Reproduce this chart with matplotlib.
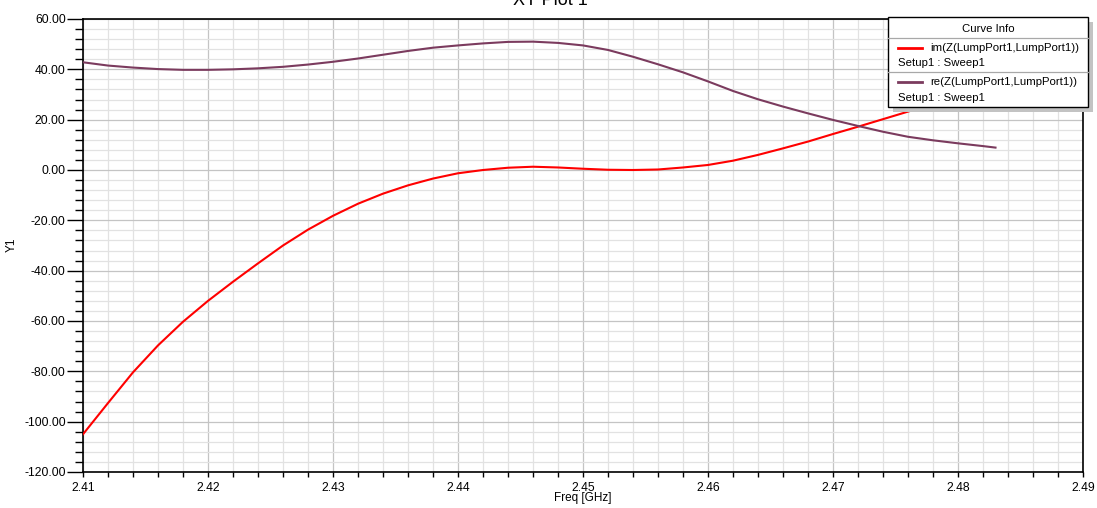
import matplotlib
matplotlib.use('Agg')
import matplotlib.pyplot as plt
from matplotlib.ticker import MultipleLocator, FormatStrFormatter
from matplotlib.patches import Rectangle
from matplotlib.lines import Line2D

plt.rcParams['font.family'] = ['Liberation Sans', 'DejaVu Sans']

# ---- data ----
freq_re = [2.410, 2.412, 2.414, 2.416, 2.418, 2.420, 2.422, 2.424, 2.426, 2.428,
           2.430, 2.432, 2.434, 2.436, 2.438, 2.440, 2.442, 2.444, 2.446, 2.448,
           2.450, 2.452, 2.454, 2.456, 2.458, 2.460, 2.462, 2.464, 2.466, 2.468,
           2.470, 2.472, 2.474, 2.476, 2.478, 2.480, 2.482, 2.483]
re_z = [42.8, 41.5, 40.7, 40.1, 39.8, 39.8, 40.0, 40.4, 41.0, 41.9,
        43.0, 44.3, 45.8, 47.3, 48.6, 49.5, 50.3, 50.9, 51.0, 50.5,
        49.5, 47.7, 45.0, 42.0, 38.8, 35.2, 31.4, 28.1, 25.2, 22.5,
        19.9, 17.5, 15.2, 13.2, 11.8, 10.6, 9.5, 8.9]

freq_im = [2.410, 2.412, 2.414, 2.416, 2.418, 2.420, 2.422, 2.424, 2.426, 2.428,
           2.430, 2.432, 2.434, 2.436, 2.438, 2.440, 2.442, 2.444, 2.446, 2.448,
           2.450, 2.452, 2.454, 2.456, 2.458, 2.460, 2.462, 2.464, 2.466, 2.468,
           2.470, 2.472, 2.474, 2.476, 2.478, 2.480, 2.482, 2.483]
im_z = [-105.0, -92.6, -80.4, -69.7, -60.3, -52.0, -44.4, -37.1, -30.0, -23.7,
        -18.2, -13.4, -9.4, -6.1, -3.4, -1.3, 0.0, 0.9, 1.3, 1.0,
        0.5, 0.1, 0.0, 0.2, 1.0, 2.0, 3.7, 6.0, 8.6, 11.3,
        14.3, 17.2, 20.2, 23.2, 26.3, 29.4, 32.6, 34.2]

series_labels = ['im(Z(LumpPort1,LumpPort1))', 're(Z(LumpPort1,LumpPort1))']
series_colors = ['#ff0000', '#7b3b5e']
sweep_label = 'Setup1 : Sweep1'

x_ticks = [2.41, 2.42, 2.43, 2.44, 2.45, 2.46, 2.47, 2.48, 2.49]
y_ticks = [-120, -100, -80, -60, -40, -20, 0, 20, 40, 60]

W, H = 1097, 508
fig = plt.figure(figsize=(W / 100, H / 100), dpi=100)
ax = fig.add_axes([83 / W, 1 - 472 / H, 1000 / W, 453 / H])

ax.plot(freq_im, im_z, color=series_colors[0], lw=1.5, zorder=3)
ax.plot(freq_re, re_z, color=series_colors[1], lw=1.5, zorder=3)

ax.set_xlim(x_ticks[0], x_ticks[-1])
ax.set_ylim(y_ticks[0], y_ticks[-1])
ax.set_xticks(x_ticks)
ax.set_yticks(y_ticks)
ax.xaxis.set_minor_locator(MultipleLocator(0.002))
ax.yaxis.set_minor_locator(MultipleLocator(4))
ax.xaxis.set_major_formatter(FormatStrFormatter('%.2f'))
ax.yaxis.set_major_formatter(FormatStrFormatter('%.2f'))

ax.set_axisbelow(True)
ax.grid(which='major', color='#c4c4c4', lw=0.9)
ax.grid(which='minor', color='#e2e2e2', lw=0.9)

ax.tick_params(axis='y', which='major', length=11.5, width=1, direction='out',
               pad=1, labelsize=8.7, colors='black')
ax.tick_params(axis='y', which='minor', length=5.8, width=1, direction='out')
ax.tick_params(axis='x', which='both', length=3.5, width=1, direction='out',
               pad=4, labelsize=8.7)
for s in ax.spines.values():
    s.set_linewidth(1.2)
    s.set_color('black')

# axis labels
fig.text(12 / W, 1 - 245 / H, 'Y1', rotation=90, ha='center', va='center', fontsize=8.5)
fig.text(583 / W, 1 - 498.5 / H, 'Freq [GHz]', ha='center', va='center', fontsize=8.5)

# clipped title at the top edge (as in the reference)
fig.text(550 / W, 1 - 5 / H, 'XY Plot 1', ha='center', va='baseline', fontsize=13)


def prect(x0, y0, x1, y1, **kw):
    r = Rectangle((x0 / W, 1 - y1 / H), (x1 - x0) / W, (y1 - y0) / H,
                  transform=fig.transFigure, **kw)
    fig.add_artist(r)
    return r


def pline(x0, x1, y, **kw):
    ln = Line2D([x0 / W, x1 / W], [1 - y / H, 1 - y / H], transform=fig.transFigure, **kw)
    fig.add_artist(ln)
    return ln


# legend ("Curve Info")
prect(893, 22, 1093, 112, facecolor='#c3c3c3', edgecolor='none', zorder=5)
prect(888, 17, 1088, 107, facecolor='white', edgecolor='black', lw=1, zorder=6)
fig.text(988 / W, 1 - 28.5 / H, 'Curve Info', ha='center', va='center', fontsize=8.2, zorder=7)
pline(888, 1088, 38.3, color='#a8a8a8', lw=0.9, zorder=7)
pline(888, 1088, 72.3, color='#a8a8a8', lw=0.9, zorder=7)
entry_y = [47.7, 82.3]
for lab, col, yy in zip(series_labels, series_colors, entry_y):
    pline(898, 922, yy, color=col, lw=2, zorder=7)
    fig.text(930 / W, 1 - yy / H, lab, ha='left', va='center', fontsize=8.2, zorder=7)
    fig.text(898 / W, 1 - (yy + 15.8) / H, sweep_label, ha='left', va='center',
             fontsize=8.2, zorder=7)

fig.savefig('out.png', dpi=100)
